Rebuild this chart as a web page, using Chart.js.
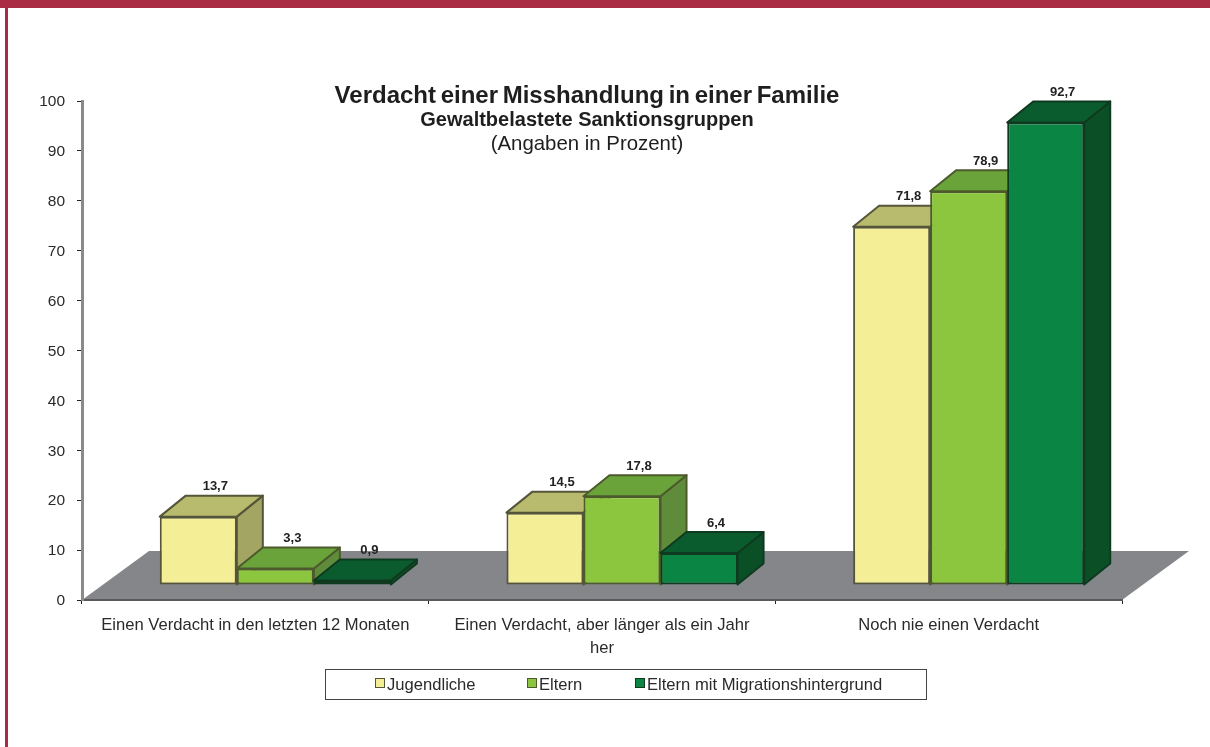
<!DOCTYPE html>
<html lang="de">
<head>
<meta charset="utf-8">
<title>Verdacht einer Misshandlung in einer Familie</title>
<script src="https://cdn.jsdelivr.net/npm/chart.js@4"></script>
<style>
html,body{margin:0;padding:0;background:#fff;width:1210px;height:747px;overflow:hidden}
#top{position:absolute;left:0;top:0;width:1210px;height:8px;background:#A92C44}
#left{position:absolute;left:5px;top:0;width:3px;height:747px;background:#A92C44}
canvas{position:absolute;left:0;top:0;filter:blur(0.4px)}
</style>
</head>
<body>
<canvas id="c" width="1210" height="747"></canvas>
<div id="top"></div><div id="left"></div>
<script>
const categories = [
  "Einen Verdacht in den letzten 12 Monaten",
  ["Einen Verdacht, aber länger als ein Jahr", "her"],
  "Noch nie einen Verdacht"
];
const jugendliche = [13.7, 14.5, 71.8];
const eltern = [3.3, 17.8, 78.9];
const migration = [0.9, 6.4, 92.7];
const seriesNames = ["Jugendliche", "Eltern", "Eltern mit Migrationshintergrund"];
const frontColors = ["#F4EE96", "#8CC63F", "#0A8544"];
const topColors = ["#B8BB6E", "#69A33A", "#0A5C2F"];
const sideColors = ["#A3A562", "#5F8C3A", "#0B4F26"];
const edgeColors = ["#55553A", "#4C5A2C", "#0F3A20"];
const titleLines = [
  {text: "Verdacht einer Misshandlung in einer Familie", font: "bold 24px 'Liberation Sans'", y: 96, spacing: "-2px"},
  {text: "Gewaltbelastete Sanktionsgruppen", font: "bold 20px 'Liberation Sans'", y: 120, spacing: "0px"},
  {text: "(Angaben in Prozent)", font: "20.4px 'Liberation Sans'", y: 144, spacing: "0px"}
];

const FONT = "'Liberation Sans'";
const FRONT_SHIFT = {x: 20, y: -15};
const BAR_DEPTH = {x: 26, y: -21};
const FLOOR_DEPTH = {x: 67, y: -49};
const LEGEND = {left: 325, top: 669, right: 926, bottom: 699, swatches: [375, 527, 635], size: 10};

const scene = {
  id: "scene",
  beforeDraw(chart) {
    const {ctx, scales: {x, y}} = chart;
    const y0 = y.getPixelForValue(0);
    ctx.save();
    ctx.fillStyle = "#85868A";
    ctx.beginPath();
    ctx.moveTo(x.left, y0);
    ctx.lineTo(x.left + FLOOR_DEPTH.x, y0 + FLOOR_DEPTH.y);
    ctx.lineTo(x.right + FLOOR_DEPTH.x, y0 + FLOOR_DEPTH.y);
    ctx.lineTo(x.right, y0);
    ctx.closePath();
    ctx.fill();
    ctx.restore();
  },
  // Chart.js paints datasets last-to-first; the 3D look needs first-to-last.
  beforeDatasetDraw() {
    return false;
  },
  afterDatasetsDraw(chart) {
    const {ctx} = chart;
    chart.data.datasets.forEach((ds, i) => {
      const meta = chart.getDatasetMeta(i);
      ctx.save();
      ctx.translate(FRONT_SHIFT.x, FRONT_SHIFT.y);
      ctx.lineJoin = "round";
      ctx.lineWidth = 2;
      ctx.strokeStyle = edgeColors[i];
      meta.data.forEach(el => {
        const p = el.getProps(["x", "y", "base", "width"], true);
        const l = p.x - p.width / 2, r = p.x + p.width / 2;
        ctx.fillStyle = sideColors[i];
        ctx.beginPath();
        ctx.moveTo(r, p.y);
        ctx.lineTo(r + BAR_DEPTH.x, p.y + BAR_DEPTH.y);
        ctx.lineTo(r + BAR_DEPTH.x, p.base + BAR_DEPTH.y);
        ctx.lineTo(r, p.base);
        ctx.closePath();
        ctx.fill(); ctx.stroke();
        ctx.fillStyle = topColors[i];
        ctx.beginPath();
        ctx.moveTo(l, p.y);
        ctx.lineTo(l + BAR_DEPTH.x, p.y + BAR_DEPTH.y);
        ctx.lineTo(r + BAR_DEPTH.x, p.y + BAR_DEPTH.y);
        ctx.lineTo(r, p.y);
        ctx.closePath();
        ctx.fill(); ctx.stroke();
      });
      meta.controller.draw();
      ctx.restore();
    });
    ctx.save();
    ctx.font = "bold 13px " + FONT;
    ctx.fillStyle = "#222";
    ctx.textAlign = "center";
    ctx.textBaseline = "middle";
    chart.data.datasets.forEach((ds, i) => {
      chart.getDatasetMeta(i).data.forEach((el, j) => {
        const label = String(ds.data[j]).replace(".", ",");
        ctx.fillText(label, el.x + FRONT_SHIFT.x + 17, el.y + FRONT_SHIFT.y + BAR_DEPTH.y - 9);
      });
    });
    ctx.restore();
  },
  afterDraw(chart) {
    const {ctx} = chart;
    ctx.save();
    ctx.fillStyle = "#1E1E1E";
    ctx.textAlign = "center";
    ctx.textBaseline = "middle";
    titleLines.forEach(t => {
      ctx.font = t.font;
      ctx.wordSpacing = t.spacing;
      ctx.fillText(t.text, 587, t.y);
    });
    ctx.wordSpacing = "0px";
    ctx.fillStyle = "#fff";
    ctx.strokeStyle = "#444";
    ctx.lineWidth = 1;
    ctx.fillRect(LEGEND.left, LEGEND.top, LEGEND.right - LEGEND.left, LEGEND.bottom - LEGEND.top);
    ctx.strokeRect(LEGEND.left + .5, LEGEND.top + .5, LEGEND.right - LEGEND.left, LEGEND.bottom - LEGEND.top);
    ctx.font = "16.6px " + FONT;
    ctx.textAlign = "left";
    seriesNames.forEach((name, i) => {
      const sx = LEGEND.swatches[i];
      const sy = (LEGEND.top + LEGEND.bottom) / 2 - LEGEND.size / 2 - 1;
      ctx.fillStyle = frontColors[i];
      ctx.fillRect(sx, sy, LEGEND.size, LEGEND.size);
      ctx.strokeStyle = edgeColors[i];
      ctx.strokeRect(sx + .5, sy + .5, LEGEND.size - 1, LEGEND.size - 1);
      ctx.fillStyle = "#2A2A2A";
      ctx.fillText(name, sx + LEGEND.size + 2, (LEGEND.top + LEGEND.bottom) / 2 + 1);
    });
    ctx.restore();
  }
};

const makeDataset = (i, data) => ({
  label: seriesNames[i],
  data,
  backgroundColor: frontColors[i],
  borderColor: edgeColors[i],
  borderWidth: 2,
  borderSkipped: false,
  clip: false
});

new Chart(document.getElementById("c"), {
  type: "bar",
  data: {
    labels: categories,
    datasets: [makeDataset(0, jugendliche), makeDataset(1, eltern), makeDataset(2, migration)]
  },
  options: {
    responsive: false,
    animation: false,
    layout: {padding: {top: 101, right: 88, bottom: 0, left: 0}},
    datasets: {bar: {categoryPercentage: 2 / 3, barPercentage: 1}},
    plugins: {legend: {display: false}, title: {display: false}, tooltip: {enabled: false}},
    scales: {
      x: {
        afterFit: s => { s.height = 147; },
        grid: {drawOnChartArea: false, drawTicks: true, tickLength: 4, tickColor: "#222", offset: true},
        border: {display: true, color: "#5A5A5E", width: 2},
        ticks: {color: "#2A2A2A", font: {family: "Liberation Sans", size: 16.6, lineHeight: 1.4}, padding: 10, maxRotation: 0, autoSkip: false}
      },
      y: {
        min: 0,
        max: 100,
        afterFit: s => { s.width = 82; },
        grid: {drawOnChartArea: false, drawTicks: true, tickLength: 5, tickColor: "#222"},
        border: {display: true, color: "#8A8A8A", width: 3},
        ticks: {stepSize: 10, color: "#2A2A2A", font: {family: "Liberation Sans", size: 15.5}, padding: 12, labelOffset: 1}
      }
    }
  },
  plugins: [scene]
});
</script>
</body>
</html>
